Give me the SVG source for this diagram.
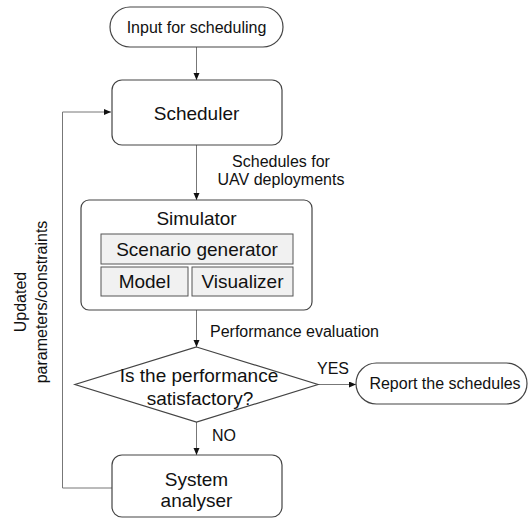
<svg xmlns="http://www.w3.org/2000/svg" width="528" height="519" viewBox="0 0 528 519">
  <style>
    text { font-family: "Liberation Sans", Arial, sans-serif; fill: #111; }
    .t16 { font-size: 16px; }
    .t19 { font-size: 19px; }
    .mid { text-anchor: middle; }
    .box { fill: #fff; stroke: #444; stroke-width: 1.2; }
    .inner { fill: #f1f1f1; stroke: #555; stroke-width: 1; }
    .conn { fill: none; stroke: #777; stroke-width: 1; }
  </style>
  <defs>
    <marker id="arrow" markerUnits="userSpaceOnUse" markerWidth="8" markerHeight="7" refX="7" refY="3" orient="auto">
      <path d="M0,0 L7,3 L0,6 z" fill="#111"/>
    </marker>
  </defs>
  <rect width="528" height="519" fill="#fff"/>

  <g id="connectors">
    <line class="conn" x1="196.5" y1="47" x2="196.5" y2="80" marker-end="url(#arrow)"/>
    <line class="conn" x1="196.5" y1="145" x2="196.5" y2="200" marker-end="url(#arrow)"/>
    <line class="conn" x1="196.5" y1="310" x2="196.5" y2="347" marker-end="url(#arrow)"/>
    <line class="conn" x1="196.5" y1="422" x2="196.5" y2="455" marker-end="url(#arrow)"/>
    <line class="conn" x1="318" y1="384.5" x2="356" y2="384.5" marker-end="url(#arrow)"/>
    <polyline class="conn" points="112,488 62.5,488 62.5,112 111,112" marker-end="url(#arrow)"/>
    <text class="t16 mid" x="281" y="167">Schedules for</text>
    <text class="t16 mid" x="281" y="185">UAV deployments</text>
    <text class="t16" x="210" y="337">Performance evaluation</text>
    <text class="t16" x="317" y="374">YES</text>
    <text class="t16" x="212" y="441">NO</text>
    <text class="t16 mid" transform="translate(26,302) rotate(-90)" x="0" y="0">Updated</text>
    <text class="t16 mid" transform="translate(47,302) rotate(-90)" x="0" y="0">parameters/constraints</text>
  </g>

  <g id="input">
    <rect class="box" x="110" y="7" width="173" height="40" rx="20" ry="20"/>
    <text class="t16 mid" x="196.5" y="32.5">Input for scheduling</text>
  </g>

  <g id="scheduler">
    <rect class="box" x="112" y="80" width="170" height="65" rx="10" ry="10"/>
    <text class="t19 mid" x="196.5" y="120">Scheduler</text>
  </g>

  <g id="simulator">
    <rect class="box" x="81" y="200" width="231" height="110" rx="8" ry="8"/>
    <text class="t19 mid" x="196.5" y="225">Simulator</text>
    <g id="scenario-generator">
      <rect class="inner" x="101" y="234" width="192" height="30"/>
      <text class="t19 mid" x="197" y="256">Scenario generator</text>
    </g>
    <g id="model">
      <rect class="inner" x="101" y="267" width="87" height="29"/>
      <text class="t19 mid" x="144.5" y="288">Model</text>
    </g>
    <g id="visualizer">
      <rect class="inner" x="192" y="267" width="101" height="29"/>
      <text class="t19 mid" x="242.5" y="288">Visualizer</text>
    </g>
  </g>

  <g id="decision">
    <polygon class="box" points="196.5,347 318,384.5 196.5,422 75,384.5"/>
    <text class="t19 mid" x="199" y="382">Is the performance</text>
    <text class="t19 mid" x="200" y="405">satisfactory?</text>
  </g>

  <g id="report">
    <rect class="box" x="356" y="363" width="171" height="41" rx="20.5" ry="20.5"/>
    <text class="t16 mid" x="445" y="389">Report the schedules</text>
  </g>

  <g id="system-analyser">
    <rect class="box" x="112" y="455" width="170" height="62" rx="10" ry="10"/>
    <text class="t19 mid" x="196.5" y="486">System</text>
    <text class="t19 mid" x="196.5" y="507">analyser</text>
  </g>
</svg>
